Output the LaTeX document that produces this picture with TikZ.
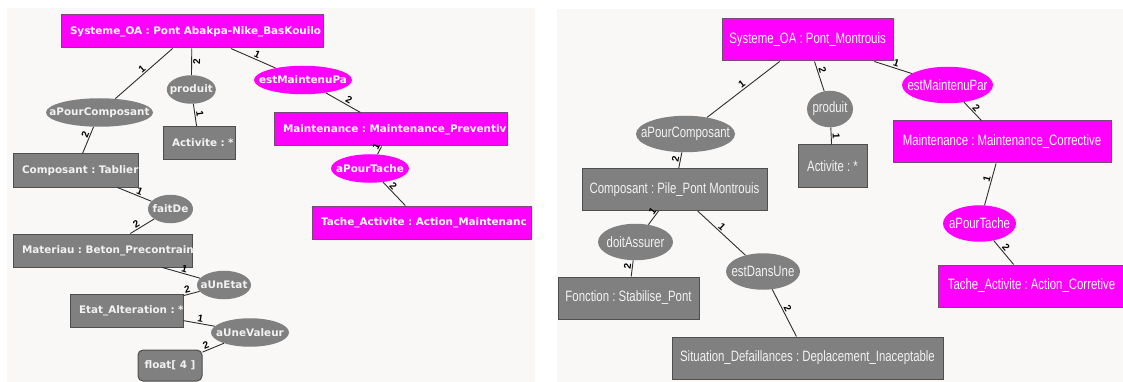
\documentclass[tikz,border=0pt]{standalone}
\usepackage{fontspec}
\usepackage{tikz}
\usetikzlibrary{shapes.geometric}
\setmainfont{DejaVu Sans}
\newfontfamily\oafont{DejaVu Sans}
\newfontfamily\oanarrow{Liberation Sans}[FakeStretch=0.76]
\newfontfamily\oacard{Liberation Sans}
\definecolor{oamagenta}{RGB}{255, 0, 255}
\definecolor{oamborder}{RGB}{115, 75, 115}
\definecolor{oagray}{RGB}{128, 128, 128}
\definecolor{oaborder}{RGB}{78, 78, 78}
\definecolor{oatext}{RGB}{242, 242, 242}
\definecolor{panelbg}{RGB}{249, 248, 247}
\definecolor{linkcol}{RGB}{45, 45, 45}
% ellipse text must not widen the ellipse
\newcommand{\nw}[1]{\makebox[0pt]{#1}}

\begin{document}
\frenchspacing
\begin{tikzpicture}[
    x=1pt, y=-1pt,
    lbox/.style={rectangle, draw=oaborder, fill=oagray, line width=1pt,
                 text width=#1, minimum height=33pt, inner xsep=9pt, inner ysep=0pt,
                 align=left, text=oatext, font=\oafont\bfseries\fontsize{10.4}{12}\selectfont,
                 execute at begin node=\hbox\bgroup, execute at end node=\egroup},
    lmbox/.style={lbox=#1, fill=oamagenta, draw=oamborder, text=white},
    lrel/.style={ellipse, fill=oagray, minimum width=#1, minimum height=28.5pt, inner sep=0pt,
                 text=oatext, font=\oafont\bfseries\fontsize{10.4}{12}\selectfont},
    lmrel/.style={lrel=#1, fill=oamagenta, text=white},
    rbox/.style={rectangle, draw=oaborder, fill=oagray, line width=1pt,
                 minimum width=#1, minimum height=42pt, inner sep=0pt,
                 text=oatext, font=\oanarrow\fontsize{15}{17}\selectfont},
    rmbox/.style={rbox=#1, fill=oamagenta, draw=oamborder, text=white},
    rrel/.style={ellipse, fill=oagray, minimum width=#1, minimum height=36.5pt, inner sep=0pt,
                 text=oatext, font=\oanarrow\fontsize{15}{17}\selectfont},
    rmrel/.style={rrel=#1, fill=oamagenta, text=white},
    link/.style={draw=linkcol, line width=0.9pt},
    card/.style={font=\oacard\bfseries\fontsize{10}{10}\selectfont, inner sep=1pt, sloped, above},
]

\fill[white] (0,0) rectangle (1123,382);
\useasboundingbox (0,0) rectangle (1123,382);

% Panels
\fill[panelbg] (7,8) rectangle (535,382);
\fill[panelbg] (557,9) rectangle (1123,382);

% Left graph
\node[lmbox=244pt] (oa1) at (192,31.5) {Systeme\_OA : Pont Abakpa-Nike\_BasKouilo};
\node[lrel=107pt] (apc1) at (99.5,112.5) {\nw{aPourComposant}};
\node[lrel=49pt] (prod1) at (191.3,89.5) {\nw{produit}};
\node[lmrel=98pt] (emp1) at (303,80) {\nw{estMaintenuPa}};
\node[lbox=54pt] (act1) at (199,143) {Activite : *};
\node[lbox=107pt] (comp1) at (75.5,170.5) {Composant : Tablier};
\node[lrel=45pt] (fait1) at (170.5,209) {\nw{faitDe}};
\node[lbox=161pt] (mat1) at (102.5,250.5) {Materiau : Beton\_Precontrain};
\node[lrel=54pt] (etat1) at (224,285) {\nw{aUnEtat}};
\node[lbox=95pt] (alt1) at (126.5,310.5) {Etat\_Alteration : *};
\node[lrel=78pt] (val1) at (250,332.5) {\nw{aUneValeur}};
\node[rectangle, rounded corners=5pt, draw=oaborder, fill=oagray, line width=1pt,
      minimum width=64pt, minimum height=31pt, inner sep=0pt, text=oatext,
      font=\oafont\bfseries\fontsize{10.4}{12}\selectfont] (flt1) at (170,365.5) {float[ 4 ]};
\node[lmbox=215pt] (mnt1) at (390.5,129.5) {Maintenance : Maintenance\_Preventiv};
\node[lmrel=78pt] (apt1) at (370,168.5) {\nw{aPourTache}};
\node[lmbox=201pt] (tch1) at (421.5,222.5) {Tache\_Activite : Action\_Maintenanc};

\draw[link] (oa1) -- node[card, pos=.48]{1} (apc1);
\draw[link] (apc1) -- node[card, pos=.35]{2} (comp1);
\draw[link] (oa1) -- node[card, below, pos=.5]{2} (prod1);
\draw[link] (prod1) -- node[card, pos=.5]{1} (act1);
\draw[link] (oa1) -- node[card, pos=.55]{1} (emp1);
\draw[link] (emp1) -- node[card, pos=.6]{2} (mnt1);
\draw[link] (mnt1) -- node[card, pos=.25]{1} (apt1);
\draw[link] (apt1) -- node[card, pos=.3]{2} (tch1);
\draw[link] (comp1) -- node[card, pos=.6]{1} (fait1);
\draw[link] (fait1) -- node[card, pos=.65]{2} (mat1);
\draw[link] (mat1) -- node[card, pos=.55]{1} (etat1);
\draw[link] (etat1) -- node[card, pos=.7]{2} (alt1);
\draw[link] (alt1) -- node[card, pos=.52]{1} (val1);
\draw[link] (val1) -- node[card, pos=.75]{2} (flt1);

% Right graph
\node[rmbox=171pt] (oa2) at (807.5,40) {Systeme\_OA : Pont\_Montrouis};
\node[rrel=99pt] (apc2) at (685.5,134) {\nw{aPourComposant}};
\node[rrel=46pt] (prod2) at (830,109) {\nw{produit}};
\node[rmrel=91pt] (emp2) at (947.5,85) {\nw{estMaintenuPar}};
\node[rbox=69pt] (act2) at (832.5,166) {Activite : *};
\node[rmbox=218pt] (mnt2) at (1002,142) {Maintenance : Maintenance\_Corrective};
\node[rbox=185pt] (comp2) at (674.5,189.5) {Composant : Pile\_Pont Montrouis};
\node[rrel=75pt] (doit2) at (635.5,242) {\nw{doitAssurer}};
\node[rrel=74pt] (dans2) at (763,271.5) {\nw{estDansUne}};
\node[rbox=141pt] (fonc2) at (628.5,298) {Fonction : Stabilise\_Pont};
\node[rbox=271pt] (sit2) at (807.5,358) {Situation\_Defaillances : Deplacement\_Inaceptable};
\node[rmrel=73pt] (apt2) at (979.5,223.5) {\nw{aPourTache}};
\node[rmbox=187pt] (tch2) at (1031.5,286) {Tache\_Activite : Action\_Corretive};

\draw[link] (oa2) -- node[card, pos=.48]{1} (apc2);
\draw[link] (apc2) -- node[card, pos=.5]{2} (comp2);
\draw[link] (oa2) -- node[card, pos=.35]{2} (prod2);
\draw[link] (prod2) -- node[card, pos=.5]{1} (act2);
\draw[link] (oa2) -- node[card, pos=.55]{1} (emp2);
\draw[link] (emp2) -- node[card, pos=.5]{2} (mnt2);
\draw[link] (mnt2) -- node[card, pos=.4]{1} (apt2);
\draw[link] (apt2) -- node[card, pos=.43]{2} (tch2);
\draw[link] (comp2) -- node[card, pos=.2]{1} (doit2);
\draw[link] (doit2) -- node[card, pos=.4]{2} (fonc2);
\draw[link] (comp2) -- node[card, pos=.44]{1} (dans2);
\draw[link] (dans2) -- node[card, pos=.46]{2} (sit2);

\end{tikzpicture}
\end{document}
